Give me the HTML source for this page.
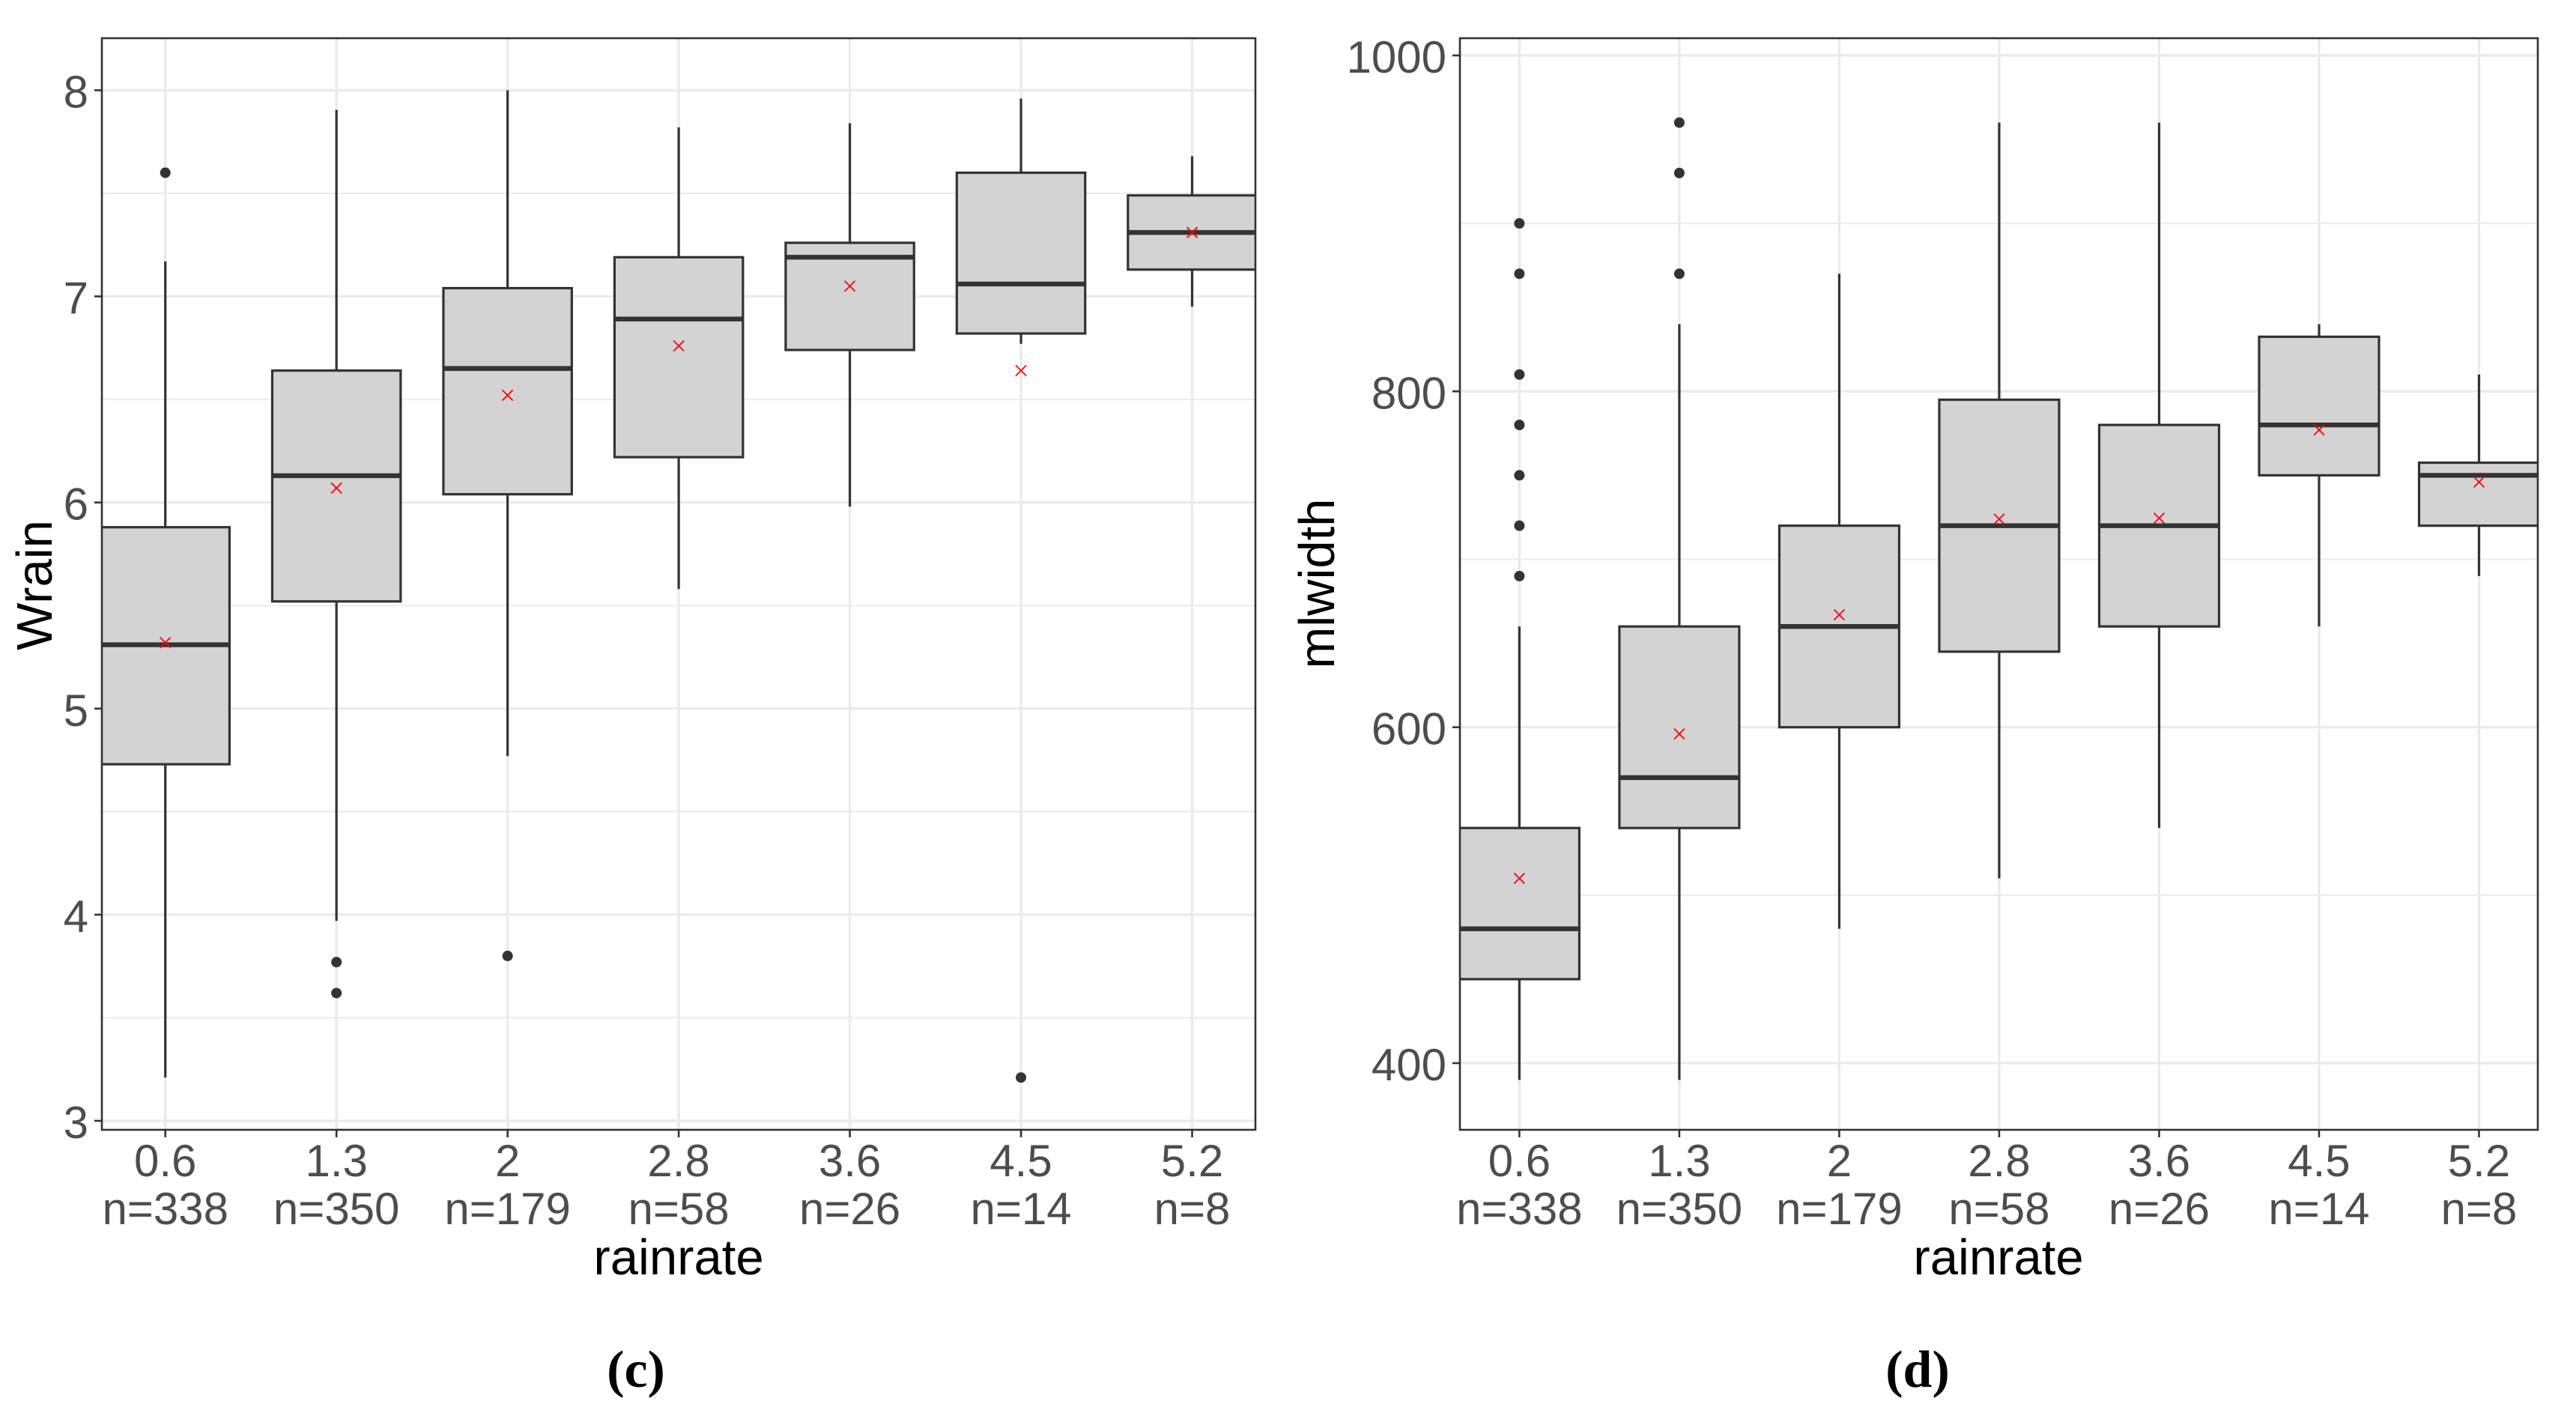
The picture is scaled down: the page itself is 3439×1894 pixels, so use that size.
<!DOCTYPE html>
<html>
<head>
<meta charset="utf-8">
<title>Boxplots of Wrain and mlwidth by rainrate</title>
<style>
html,body{margin:0;padding:0;background:#fff;width:3439px;height:1894px;overflow:hidden}
svg{display:block}
text{font-family:"Liberation Sans",Arial,sans-serif}
.tick{font-size:60px;fill:#4d4d4d}
.title{font-size:67px;fill:#000}
.cap{font-family:"Liberation Serif",serif;font-weight:bold;font-size:70px;fill:#000}
</style>
</head>
<body>
<svg id="fig" xmlns="http://www.w3.org/2000/svg" width="3439" height="1894" viewBox="0 0 3439 1894">
<rect x="0" y="0" width="3439" height="1894" fill="#fff"/>
<defs>
<clipPath id="clip-c"><rect x="136" y="51" width="1540" height="1457"/></clipPath>
<clipPath id="clip-d"><rect x="1949" y="51" width="1439" height="1457"/></clipPath>
</defs>
<g id="panel-c"></g>
<g id="panel-d"></g>
<text class="title" x="906" y="1701" text-anchor="middle">rainrate</text>
<text class="title" x="2668" y="1701" text-anchor="middle">rainrate</text>
<text class="title" transform="translate(69,781) rotate(-90)" text-anchor="middle">Wrain</text>
<text class="title" transform="translate(1781,779) rotate(-90)" text-anchor="middle">mlwidth</text>
<text class="cap" x="849" y="1851" text-anchor="middle">(c)</text>
<text class="cap" x="2560" y="1851" text-anchor="middle">(d)</text>
</svg>
<script>
const categories = ["0.6","1.3","2","2.8","3.6","4.5","5.2"];
const sampleLabels = ["n=338","n=350","n=179","n=58","n=26","n=14","n=8"];

const wrainMajorTicks = [3,4,5,6,7,8];
const wrainMinorTicks = [3.5,4.5,5.5,6.5,7.5];
const wrainWhiskerLow = [3.21,3.97,4.77,5.58,5.98,6.77,6.95];
const wrainQ1 = [4.73,5.52,6.04,6.22,6.74,6.82,7.13];
const wrainMedian = [5.31,6.13,6.65,6.89,7.19,7.06,7.31];
const wrainQ3 = [5.88,6.64,7.04,7.19,7.26,7.60,7.49];
const wrainWhiskerHigh = [7.17,7.905,8.0,7.82,7.84,7.96,7.68];
const wrainMean = [5.32,6.07,6.52,6.76,7.05,6.64,7.31];
const wrainOutliers = [[7.6],[3.77,3.62],[3.8],[],[],[3.21],[]];

const mlwidthMajorTicks = [400,600,800,1000];
const mlwidthMinorTicks = [500,700,900];
const mlwidthWhiskerLow = [390,390,480,510,540,660,690];
const mlwidthQ1 = [450,540,600,645,660,750,720];
const mlwidthMedian = [480,570,660,720,720,780,750];
const mlwidthQ3 = [540,660,720,795,780,832.5,757.5];
const mlwidthWhiskerHigh = [660,840,870,960,960,840,810];
const mlwidthMean = [510,596,667,724,724.5,777,746];
const mlwidthOutliers = [[900,870,810,780,750,720,690],[960,930,870],[],[],[],[],[]];

const NS = "http://www.w3.org/2000/svg";
function mk(tag, attrs, parent){
  const el = document.createElementNS(NS, tag);
  for (const k in attrs) el.setAttribute(k, attrs[k]);
  parent.appendChild(el);
  return el;
}
function linearScale(d0, p0, d1, p1){
  return v => p0 + (v - d0) * (p1 - p0) / (d1 - d0);
}
function drawPanel(g, clipId, box, xScale, yScale, halfWidth, majors, minors, s){
  const L = box.left, R = box.right, T = box.top, B = box.bottom;
  const clip = mk("g", {"clip-path":"url(#"+clipId+")"}, g);
  
  
  minors.forEach(v => {
    const el = mk("line", {x1:L,x2:R,y1:yScale(v),y2:yScale(v),stroke:"#ebebeb","stroke-width":2}, clip);
    
    
  });
  majors.forEach(v => {
    const el = mk("line", {x1:L,x2:R,y1:yScale(v),y2:yScale(v),stroke:"#ebebeb","stroke-width":3.4}, clip);
    
    
  });
  categories.forEach((c,i) => {
    const el = mk("line", {x1:xScale(i),x2:xScale(i),y1:T,y2:B,stroke:"#ebebeb","stroke-width":3.4}, clip);
    
    
  });
  categories.forEach((c,i) => {
    const x = xScale(i);
    const whiskers = mk("path", {d:"M"+x+" "+yScale(s.high[i])+"V"+yScale(s.q3[i])+"M"+x+" "+yScale(s.q1[i])+"V"+yScale(s.low[i]),stroke:"#333","stroke-width":3.2,fill:"none"}, clip);
    
    
    const rect = mk("rect", {x:x-halfWidth,y:yScale(s.q3[i]),width:2*halfWidth,height:yScale(s.q1[i])-yScale(s.q3[i]),fill:"#d3d3d3",stroke:"#333","stroke-width":3.2}, clip);
    
    
    const med = mk("line", {x1:x-halfWidth,x2:x+halfWidth,y1:yScale(s.median[i]),y2:yScale(s.median[i]),stroke:"#333","stroke-width":6.4}, clip);
    
    
    s.outliers[i].forEach(v => {
      const pt = mk("circle", {cx:x,cy:yScale(v),r:7,fill:"#333"}, clip);
      
      
    });
    const my = yScale(s.mean[i]);
    const a = 7;
    const mean = mk("path", {d:"M"+(x-a)+" "+(my-a)+"L"+(x+a)+" "+(my+a)+"M"+(x-a)+" "+(my+a)+"L"+(x+a)+" "+(my-a),stroke:"#f00","stroke-width":1.8,fill:"none"}, clip);
    
    
  });
  const border = mk("rect", {x:L,y:T,width:R-L,height:B-T,fill:"none",stroke:"#333","stroke-width":2.6}, g);
  
  
  majors.forEach(v => {
    const y = yScale(v);
    const t = mk("line", {x1:L-10,x2:L,y1:y,y2:y,stroke:"#333","stroke-width":2.6}, g);
    
    
    const lab = mk("text", {x:L-18,y:y+23,"text-anchor":"end",class:"tick"}, g);
    lab.textContent = String(v);
    
    
  });
  categories.forEach((c,i) => {
    const x = xScale(i);
    const t = mk("line", {x1:x,x2:x,y1:B,y2:B+10,stroke:"#333","stroke-width":2.6}, g);
    
    
    const lab = mk("text", {x:x,y:B+62,"text-anchor":"middle",class:"tick"}, g);
    lab.textContent = c;
    
    
    const n = mk("text", {x:x,y:B+126,"text-anchor":"middle",class:"tick"}, g);
    n.textContent = sampleLabels[i];
    
    
  });
}
drawPanel(document.getElementById("panel-c"), "clip-c",
  {left:136,right:1676,top:51,bottom:1508},
  linearScale(0,220.7,6,1591.5), linearScale(8,120.5,3,1496), 85.7,
  wrainMajorTicks, wrainMinorTicks,
  {low:wrainWhiskerLow,q1:wrainQ1,median:wrainMedian,q3:wrainQ3,high:wrainWhiskerHigh,mean:wrainMean,outliers:wrainOutliers});
drawPanel(document.getElementById("panel-d"), "clip-d",
  {left:1949,right:3388,top:51,bottom:1508},
  linearScale(0,2028.4,6,3309.5), linearScale(1000,74,400,1419), 80,
  mlwidthMajorTicks, mlwidthMinorTicks,
  {low:mlwidthWhiskerLow,q1:mlwidthQ1,median:mlwidthMedian,q3:mlwidthQ3,high:mlwidthWhiskerHigh,mean:mlwidthMean,outliers:mlwidthOutliers});
</script>
</body>
</html>
